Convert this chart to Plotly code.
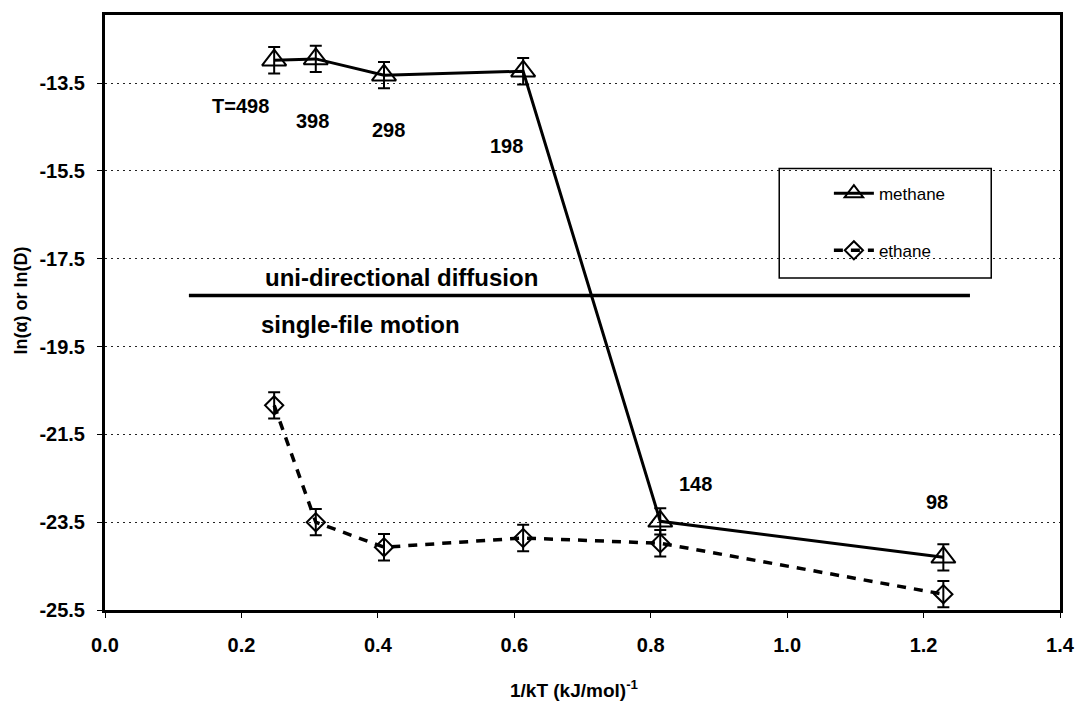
import plotly.graph_objects as go

# ---- data ----
inv_kT = [0.248, 0.309, 0.409, 0.613, 0.814, 1.229]          # 1/kT (kJ/mol)^-1
methane = [-12.98, -12.95, -13.32, -13.23, -23.48, -24.30]
methane_err = [0.30, 0.30, 0.30, 0.30, 0.30, 0.30]
ethane = [-20.84, -23.50, -24.07, -23.86, -23.98, -25.14]
ethane_err = [0.30, 0.30, 0.30, 0.30, 0.30, 0.30]

temp_labels = ["T=498", "398", "298", "198", "148", "98"]
temp_label_x = [0.199, 0.304, 0.416, 0.588, 0.865, 1.219]
temp_label_y = [-14.02, -14.36, -14.57, -14.93, -22.64, -23.05]

y_ticks = [-25.5, -23.5, -21.5, -19.5, -17.5, -15.5, -13.5]
x_ticks = [0.0, 0.2, 0.4, 0.6, 0.8, 1.0, 1.2, 1.4]

# regime divider
divider_x = [0.123, 1.268]
divider_y = -18.34

FONT = "Liberation Sans, Arial, sans-serif"

fig = go.Figure()

fig.add_trace(go.Scatter(
    x=inv_kT, y=methane, name="methane", legendgroup="m",
    mode="lines+markers",
    line=dict(color="black", width=3),
    marker=dict(symbol="triangle-up-open", size=21, color="black",
                line=dict(width=2, color="black")),
    error_y=dict(type="data", array=methane_err, visible=True,
                 color="black", thickness=2, width=6),
))
fig.add_trace(go.Scatter(
    x=inv_kT, y=ethane, name="ethane", legendgroup="e",
    mode="lines+markers",
    line=dict(color="black", width=3.5, dash="9px,8px"),
    marker=dict(symbol="diamond-open", size=14, color="black",
                line=dict(width=2, color="black")),
    error_y=dict(type="data", array=ethane_err, visible=True,
                 color="black", thickness=2, width=6),
))

# divider line between regimes
fig.add_shape(type="line", xref="x", yref="y",
              x0=divider_x[0], x1=divider_x[1], y0=divider_y, y1=divider_y,
              line=dict(color="black", width=3.5))

# legend box
fig.add_shape(type="rect", xref="paper", yref="paper",
              x0=0.706, x1=0.928, y0=0.558, y1=0.742,
              line=dict(color="black", width=1.5), fillcolor="white", layer="below")

annotations = []
for t, x, y in zip(temp_labels, temp_label_x, temp_label_y):
    annotations.append(dict(x=x, y=y, xref="x", yref="y", text=t, showarrow=False,
                            font=dict(family=FONT, size=20, color="black", weight="bold"),
                            xanchor="center", yanchor="middle"))
annotations.append(dict(x=0.232, y=-17.93, xref="x", yref="y",
                        text="uni-directional diffusion", showarrow=False,
                        font=dict(family=FONT, size=24, color="black", weight="bold"),
                        xanchor="left", yanchor="middle"))
annotations.append(dict(x=0.226, y=-19.0, xref="x", yref="y",
                        text="single-file motion", showarrow=False,
                        font=dict(family=FONT, size=24, color="black", weight="bold"),
                        xanchor="left", yanchor="middle"))
# axis titles
annotations.append(dict(x=-0.088, y=0.52, xref="paper", yref="paper",
                        text="ln(α) or ln(D)", textangle=-90, showarrow=False,
                        font=dict(family=FONT, size=18, color="black", weight="bold"),
                        xanchor="center", yanchor="middle"))
annotations.append(dict(x=0.492, y=-0.133, xref="paper", yref="paper",
                        text="1/kT (kJ/mol)<sup>-1</sup>", showarrow=False,
                        font=dict(family=FONT, size=19, color="black", weight="bold"),
                        xanchor="center", yanchor="middle"))

fig.update_layout(
    width=1087, height=701,
    margin=dict(l=105, r=15, t=13, b=91),
    paper_bgcolor="white", plot_bgcolor="white",
    font=dict(family=FONT, color="black"),
    showlegend=True,
    legend=dict(x=0.758, y=0.730, xanchor="left", yanchor="top",
                bgcolor="rgba(0,0,0,0)", borderwidth=0,
                font=dict(family=FONT, size=17, color="black"),
                tracegroupgap=32, itemwidth=40),
    annotations=annotations,
)

fig.update_xaxes(
    range=[0, 1.4], tickvals=x_ticks, ticktext=[f"{v:.1f}" for v in x_ticks],
    showgrid=False, zeroline=False,
    showline=True, linecolor="black", linewidth=3, mirror=True,
    ticks="outside", ticklen=5, tickwidth=1, tickcolor="black",
    tickfont=dict(family=FONT, size=20, color="black", weight="bold"),
    ticklabelstandoff=10,
)
fig.update_yaxes(
    range=[-25.5, -11.95], tickvals=y_ticks, ticktext=[f"{v:.1f}" for v in y_ticks],
    showgrid=True, gridcolor="#222", gridwidth=1, griddash="2px,4px",
    zeroline=False,
    showline=True, linecolor="black", linewidth=3, mirror=True,
    ticks="outside", ticklen=5, tickwidth=1, tickcolor="black",
    tickfont=dict(family=FONT, size=20, color="black", weight="bold"),
    ticklabelstandoff=8,
)

fig.write_html("out.html")
